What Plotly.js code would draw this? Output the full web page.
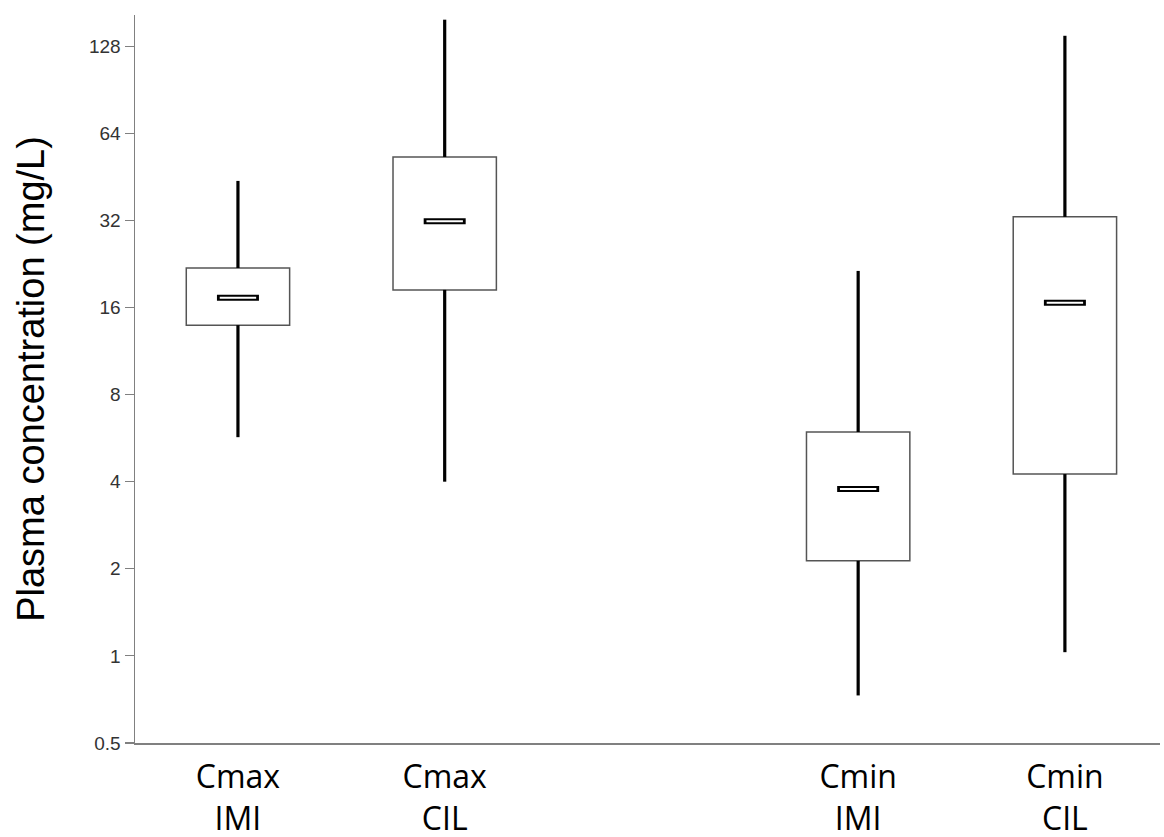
<!DOCTYPE html>
<html>
<head>
<meta charset="utf-8">
<script src="https://cdn.plot.ly/plotly-3.0.1.min.js"></script>
<style>html,body{margin:0;padding:0;background:#fff;}#chart{width:1164px;height:837px;}</style>
</head>
<body>
<div id="chart"></div>
<script>
// Categories (blank entry is the visual gap between Cmax and Cmin groups)
const categories = ["Cmax<br>IMI", "Cmax<br>CIL", " ", "Cmin<br>IMI", "Cmin<br>CIL"];
const groups = ["Cmax<br>IMI", "Cmax<br>CIL", "Cmin<br>IMI", "Cmin<br>CIL"];
// Box statistics (mg/L)
const lowerWhisker = [5.7, 4.0, 0.73, 1.03];
const q1 = [13.9, 18.4, 2.13, 4.25];
const median = [17.3, 31.8, 3.77, 16.6];
const q3 = [21.9, 53, 5.94, 32.9];
const upperWhisker = [43.8, 158, 21.4, 139];
// Y tick labels
const yTickVals = [0.5, 1, 2, 4, 8, 16, 32, 64, 128];
const yTickText = ["0.5", "1", "2", "4", "8", "16", "32", "64", "128"];

// Whiskers: two segments per group (lower whisker to Q1, Q3 to upper whisker)
const wx = [], wy = [];
groups.forEach((g, i) => {
  wx.push(g, g, null, g, g, null);
  wy.push(lowerWhisker[i], q1[i], null, q3[i], upperWhisker[i], null);
});

const traces = [
  {
    type: "bar",
    x: groups,
    base: q1,
    y: q3.map((v, i) => v - q1[i]),
    width: 0.5,
    marker: {color: "#ffffff", line: {color: "#555555", width: 1.5}},
    hoverinfo: "skip",
    showlegend: false
  },
  {
    type: "scatter",
    mode: "lines",
    x: wx,
    y: wy,
    line: {color: "#000000", width: 3.2},
    connectgaps: false,
    hoverinfo: "skip",
    showlegend: false
  },
  {
    type: "scatter",
    mode: "markers",
    x: groups,
    y: median,
    marker: {symbol: "line-ew", size: 30, line: {color: "#000000", width: 6}},
    hoverinfo: "skip",
    showlegend: false
  },
  {
    type: "scatter",
    mode: "markers",
    x: groups,
    y: median,
    marker: {symbol: "line-ew", size: 26, line: {color: "#ffffff", width: 2}},
    hoverinfo: "skip",
    showlegend: false
  }
];

const layout = {
  width: 1164,
  height: 837,
  margin: {l: 135, r: 4, t: 15, b: 94},
  paper_bgcolor: "#ffffff",
  plot_bgcolor: "#ffffff",
  barmode: "overlay",
  showlegend: false,
  xaxis: {
    type: "category",
    categoryorder: "array",
    categoryarray: categories,
    tickvals: categories,
    ticktext: categories,
    range: [-0.498, 4.46],
    showline: true,
    linecolor: "#808080",
    linewidth: 1.5,
    showgrid: false,
    zeroline: false,
    ticks: "",
    ticklabelstandoff: 5,
    tickfont: {family: "Open Sans, Noto Sans, sans-serif", size: 32, color: "#000000"}
  },
  yaxis: {
    type: "log",
    range: [Math.log10(0.5), Math.log10(164)],
    tickvals: yTickVals,
    ticktext: yTickText,
    showline: true,
    linecolor: "#808080",
    linewidth: 1.5,
    showgrid: false,
    zeroline: false,
    ticks: "outside",
    ticklen: 9,
    tickwidth: 1.2,
    tickcolor: "#808080",
    tickfont: {family: "Liberation Sans, Arial, sans-serif", size: 19, color: "#333333"},
    title: {
      text: "Plasma concentration (mg/L)",
      font: {family: "Liberation Sans Narrow, Liberation Sans, Arial, sans-serif", size: 38, color: "#000000"},
      standoff: 32
    }
  }
};

Plotly.newPlot("chart", traces, layout, {displayModeBar: false, staticPlot: true});
</script>
</body>
</html>
